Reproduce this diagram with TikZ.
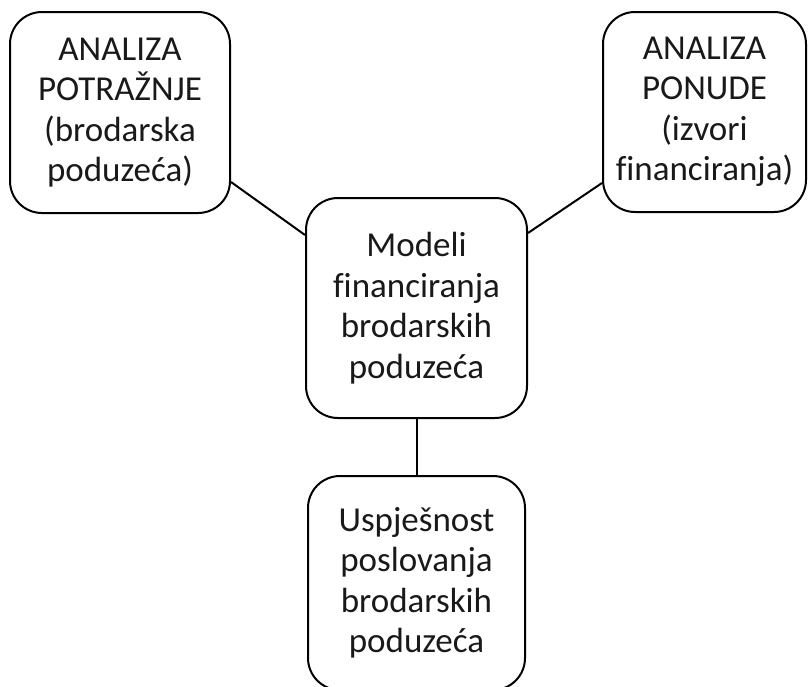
\documentclass[tikz,border=0pt]{standalone}
\usepackage{fontspec}
\setmainfont[Ligatures=NoCommon]{Carlito}
\begin{document}
\begin{tikzpicture}[x=1pt,y=-1pt,
  box/.style={draw=black, line width=2pt, rounded corners=32pt, align=center,
    inner sep=0pt, font=\fontsize{35}{40.5}\selectfont, text=black!90},
  link/.style={draw=black, line width=2pt}]
\useasboundingbox (0,0) rectangle (808,686);
\node[box, minimum width=220pt, minimum height=201pt] (tl) at (120,112.5)
  {ANALIZA\\POTRAŽNJE\\(brodarska\\poduzeća)};
\node[box, minimum width=203pt, minimum height=200pt] (tr) at (704.5,112)
  {ANALIZA\\PONUDE\\(izvori\\financiranja)};
\node[box, minimum width=221pt, minimum height=220pt] (c) at (416.5,308)
  {Modeli\\financiranja\\brodarskih\\poduzeća};
\node[box, minimum width=217pt, minimum height=214pt] (b) at (416.5,583)
  {Uspješnost\\poslovanja\\brodarskih\\poduzeća};
\draw[link] ([yshift=-69.5pt]tl.east) -- ([yshift=73pt]c.west);
\draw[link] ([yshift=75pt]c.east) -- ([yshift=-71pt]tr.west);
\draw[link] (c.south) -- (b.north);
\end{tikzpicture}
\end{document}
